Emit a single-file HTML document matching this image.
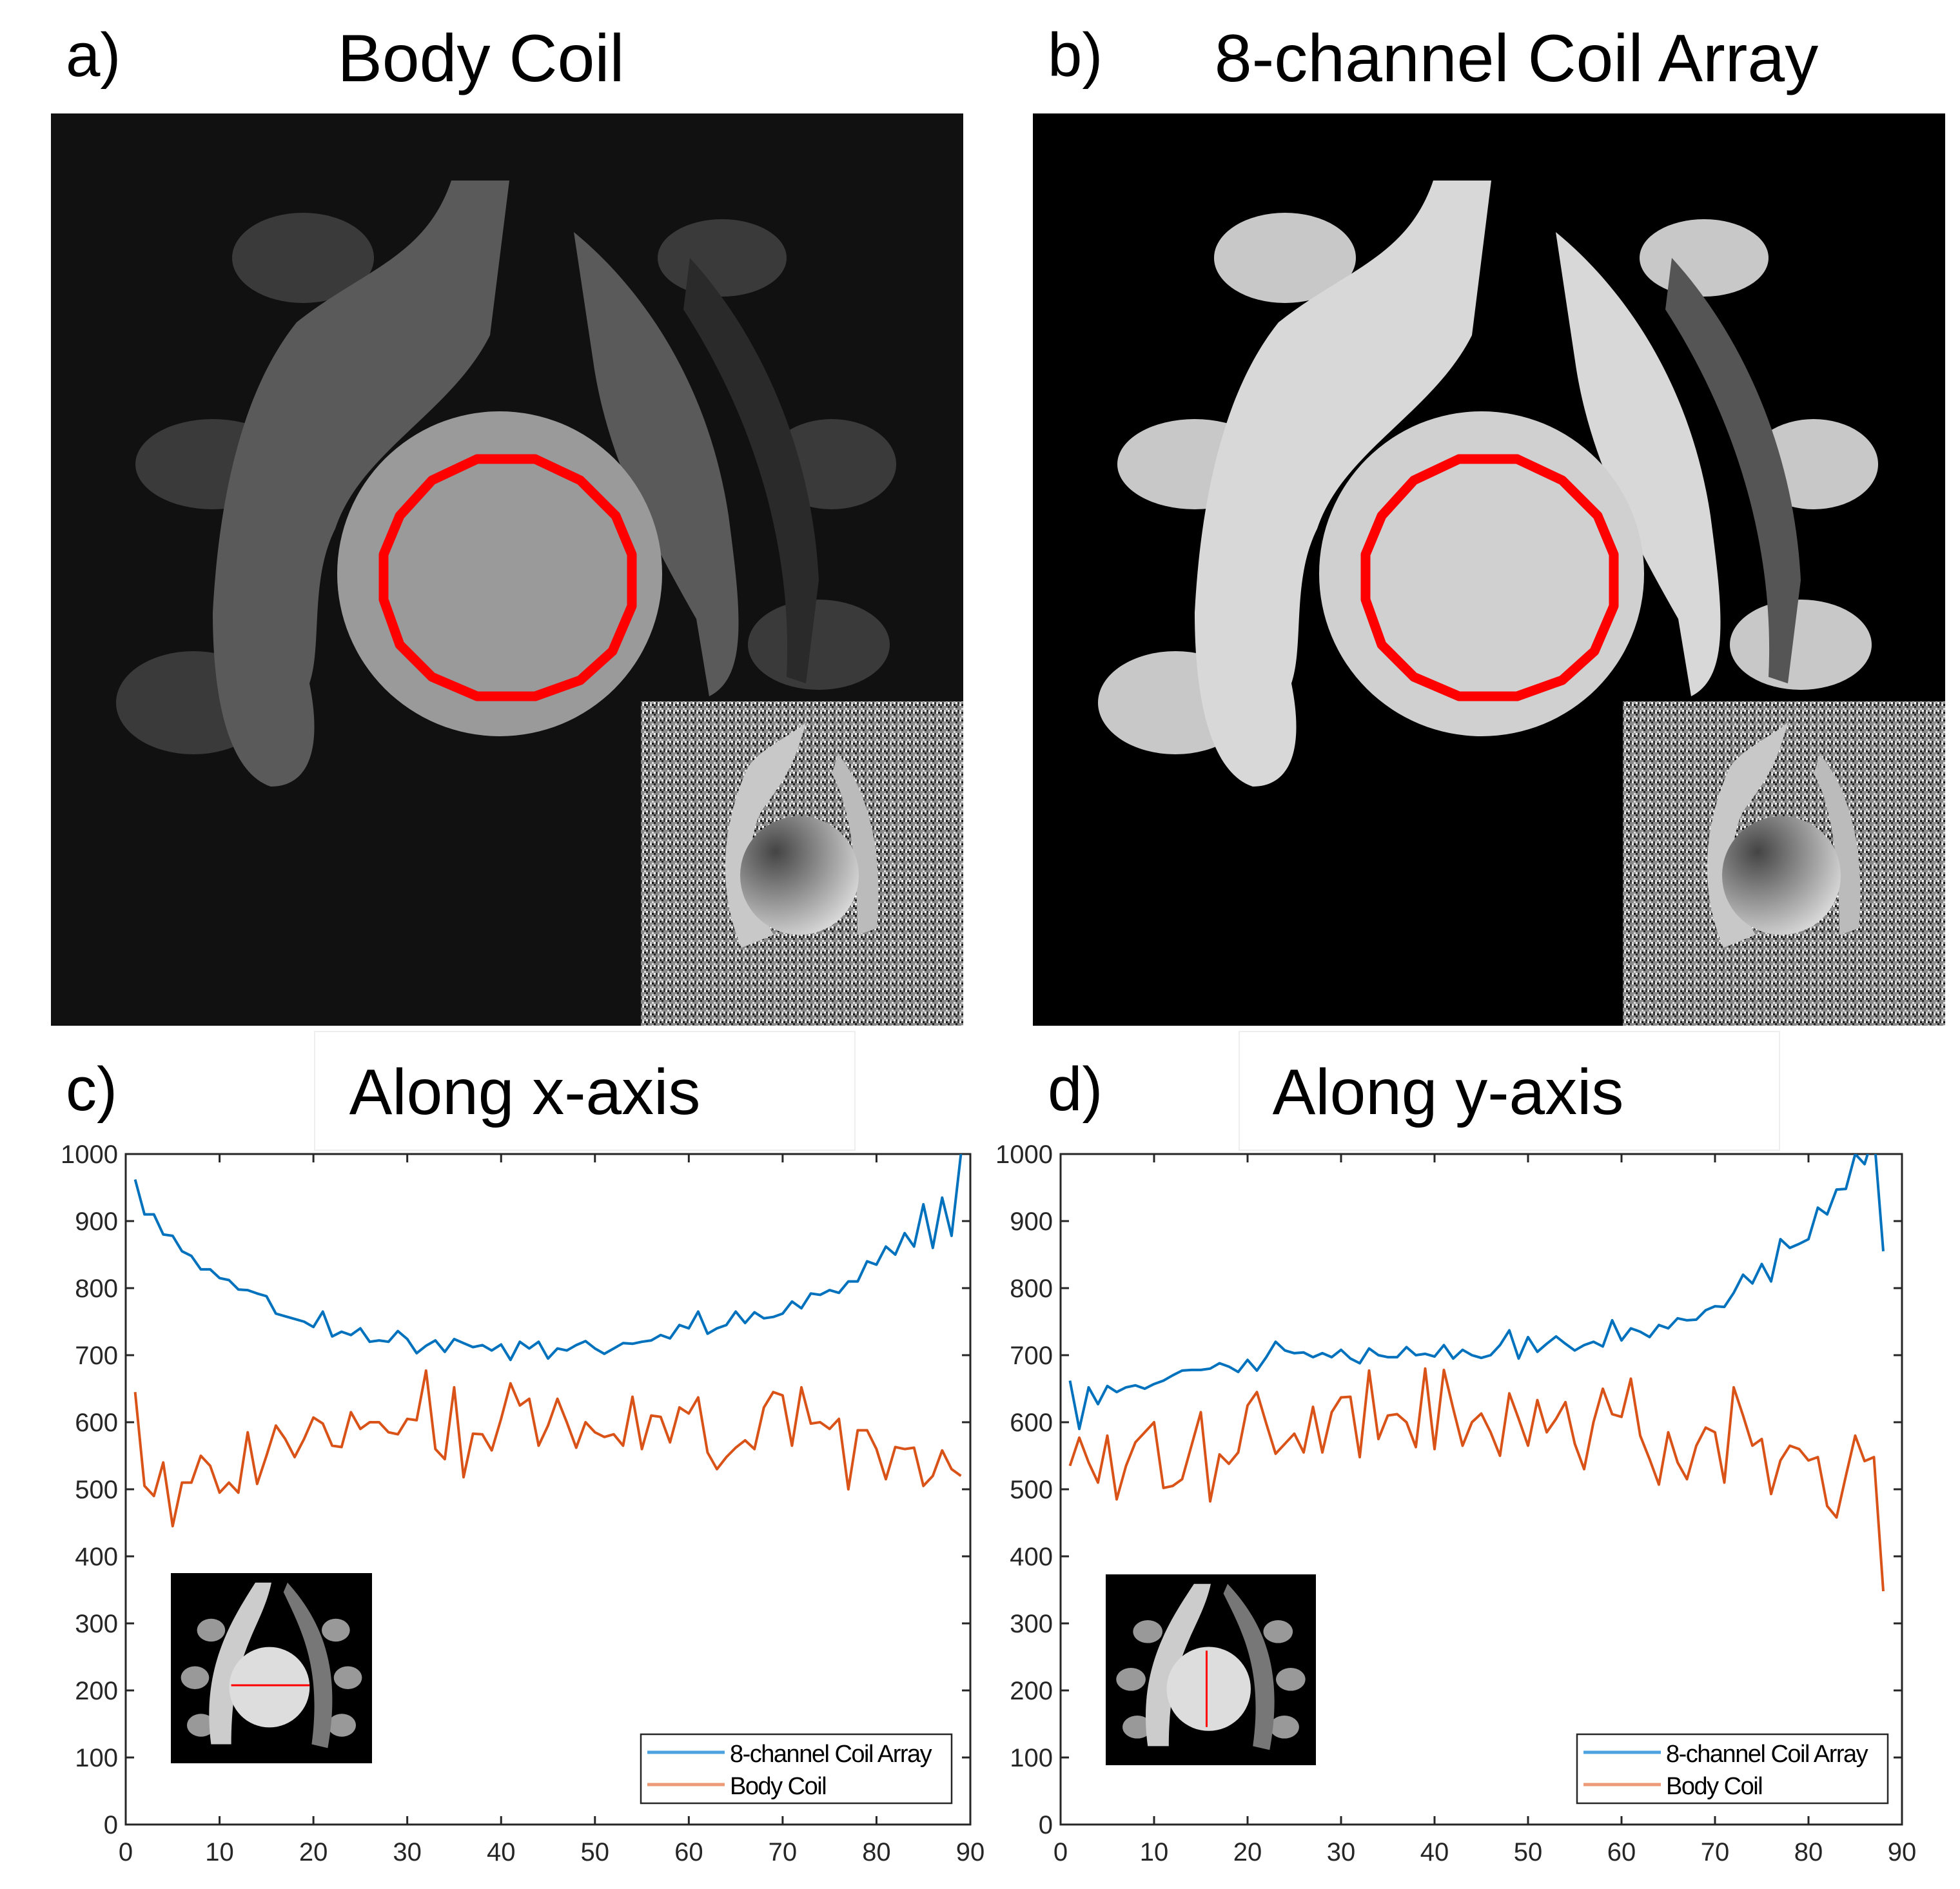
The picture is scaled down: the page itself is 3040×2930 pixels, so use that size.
<!DOCTYPE html>
<html><head><meta charset="utf-8"><style>
html,body{margin:0;padding:0;background:#fff;}
svg{display:block;}
text{font-family:"Liberation Sans",sans-serif;}
</style></head>
<body>
<svg id="fig" width="3040" height="2930" viewBox="0 0 3040 2930" xmlns="http://www.w3.org/2000/svg">
<defs>
<pattern id="noise" width="12" height="12" patternUnits="userSpaceOnUse">
<rect width="12" height="12" fill="#8a8a8a"/>
<rect x="0" y="0" width="3" height="3" fill="#eee"/><rect x="6" y="3" width="3" height="3" fill="#222"/>
<rect x="3" y="6" width="3" height="3" fill="#ddd"/><rect x="9" y="9" width="3" height="3" fill="#333"/>
<rect x="9" y="0" width="3" height="3" fill="#444"/><rect x="0" y="9" width="3" height="3" fill="#ccc"/>
<rect x="6" y="9" width="3" height="3" fill="#fff"/><rect x="3" y="0" width="3" height="3" fill="#111"/>
</pattern>
<radialGradient id="discgrad" cx="0.3" cy="0.3" r="0.8"><stop offset="0" stop-color="#444"/><stop offset="1" stop-color="#ddd"/></radialGradient>
<clipPath id="clipc"><rect x="195" y="1790" width="1310" height="1040"/></clipPath>
<clipPath id="clipd"><rect x="1645" y="1790" width="1305" height="1040"/></clipPath>
</defs>

<text x="102" y="118" font-size="96">a)</text>
<text x="746" y="126" font-size="104" text-anchor="middle">Body Coil</text>
<text x="1625" y="118" font-size="96">b)</text>
<text x="2352" y="126" font-size="104" text-anchor="middle">8-channel Coil Array</text>

<g id="panels"></g>

<rect x="488" y="1600" width="838" height="184" fill="none" stroke="#eee" stroke-width="2"/>
<text x="102" y="1722" font-size="96">c)</text>
<text x="814" y="1728" font-size="100" text-anchor="middle">Along x-axis</text>
<rect x="1922" y="1600" width="838" height="184" fill="none" stroke="#eee" stroke-width="2"/>
<text x="1625" y="1722" font-size="96">d)</text>
<text x="2246" y="1728" font-size="100" text-anchor="middle">Along y-axis</text>

<g id="charts"></g>
</svg>
<script>
// ---------- chart data ----------
const xTicks = [0,10,20,30,40,50,60,70,80,90];
const yTicks = [0,100,200,300,400,500,600,700,800,900,1000];
const seriesNames = ["8-channel Coil Array","Body Coil"];
const xArrayC = [962,910,910,880,878,855,848,828,828,815,812,798,797,792,788,762,758,754,750,742,765,728,735,730,740,720,722,720,736,724,703,714,722,705,724,718,712,715,707,716,693,720,710,720,695,710,707,715,721,710,702,710,718,717,720,722,730,725,745,740,765,732,740,745,765,748,764,755,757,762,780,770,792,790,797,793,810,810,840,835,862,850,882,862,925,860,935,878,1000];
const xBodyC = [645,505,490,540,445,510,510,550,535,495,510,495,585,508,550,595,575,548,575,607,598,565,563,615,590,600,600,585,582,605,603,677,560,545,652,518,583,582,558,605,658,625,635,565,595,635,600,562,600,585,578,582,565,638,560,610,608,570,622,613,637,555,530,548,562,573,560,622,645,640,565,652,598,600,590,605,500,588,588,560,515,563,560,562,505,520,558,530,520];
const yArrayD = [662,590,652,627,654,645,652,655,650,657,662,670,677,678,678,680,688,683,675,693,677,697,720,707,703,704,697,703,697,708,695,688,710,700,697,697,712,700,702,698,715,695,708,700,696,700,715,737,695,727,705,717,728,717,707,715,720,713,752,722,740,735,727,745,740,755,752,753,767,773,772,793,820,807,836,810,873,860,866,873,920,910,947,948,1000,985,1030,855];
const yBodyD = [535,577,540,510,580,485,535,570,585,600,502,505,515,565,615,482,552,538,555,625,645,598,553,568,583,555,623,555,615,637,638,548,677,575,610,612,600,563,680,560,678,620,565,600,613,585,550,643,605,565,633,585,605,630,568,530,600,650,612,608,665,580,545,507,585,540,515,565,592,585,510,652,610,565,575,493,543,565,560,543,548,475,458,520,580,542,548,348];

const NS="http://www.w3.org/2000/svg";
function mk(tag, attrs, parent){const e=document.createElementNS(NS,tag);for(const k in attrs)e.setAttribute(k,attrs[k]);if(parent)parent.appendChild(e);return e;}

// ---------- image panels ----------
const panels=document.getElementById('panels');
function drawPanel(ox, dim, name){
  const g=mk('g',{transform:'translate('+ox+',0)'},panels);
  
  
  const bg = dim ? '#111' : '#000';
  const tissue = dim ? '#5a5a5a' : '#d8d8d8';
  const fin = dim ? '#3a3a3a' : '#c8c8c8';
  const disc = dim ? '#9a9a9a' : '#d0d0d0';
  mk('rect',{x:79,y:176,width:1415,height:1415,fill:bg},g);
  [[470,400,110,70],[330,720,120,70],[300,1090,120,80],[1120,400,100,60],[1290,720,100,70],[1270,1000,110,70]].forEach(f=>{
    mk('ellipse',{cx:f[0],cy:f[1],rx:f[2],ry:f[3],fill:fin},g);
  });
  mk('path',{d:'M700 280 L790 280 L760 520 C700 640 560 700 520 820 C480 900 500 1000 480 1060 C500 1160 480 1220 420 1220 C360 1200 330 1100 330 950 C340 760 380 600 460 500 C560 420 660 400 700 280 Z',fill:tissue},g);
  mk('path',{d:'M890 360 C1000 450 1100 600 1130 800 C1150 950 1160 1050 1100 1080 L1080 960 C1000 820 940 700 920 560 Z',fill:tissue},g);
  mk('path',{d:'M1070 400 C1180 520 1260 700 1270 900 L1250 1060 L1220 1050 C1230 850 1170 650 1060 480 Z',fill: dim?'#2a2a2a':'#555'},g);
  mk('circle',{cx:775,cy:890,r:252,fill:disc},g);
  mk('path',{d:'M740 712 L830 712 L900 745 L955 800 L980 860 L980 940 L950 1010 L900 1055 L830 1080 L740 1080 L670 1050 L620 1000 L595 930 L595 860 L620 800 L670 745 Z',fill:'none',stroke:'#ff0000','stroke-width':15,'stroke-linejoin':'round'},g);
  const ins=mk('g',{},g);
  
  
  mk('rect',{x:994,y:1088,width:500,height:503,fill:'url(#noise)'},ins);
  mk('path',{d:'M1160 1190 C1180 1160 1230 1140 1250 1120 C1230 1200 1200 1230 1180 1260 C1150 1320 1170 1400 1200 1450 L1150 1470 C1120 1400 1110 1300 1160 1190 Z',fill:'#c8c8c8'},ins);
  mk('path',{d:'M1300 1170 C1350 1230 1370 1330 1360 1440 L1330 1450 C1330 1350 1320 1250 1290 1200 Z',fill:'#bbb'},ins);
  mk('circle',{cx:1240,cy:1358,r:92,fill:'url(#discgrad)'},ins);
}
drawPanel(0,true,'body-coil-image');
drawPanel(1523,false,'coil-array-image');

// ---------- charts ----------
const charts=document.getElementById('charts');
function drawChart(cfg){
  const g=mk('g',{},charts);
  
  
  const L=cfg.left,R=cfg.right,T=1790,B=2830;
  const sx=v=>L+(v-0)/(90-0)*(R-L);
  const sy=v=>B-(v-0)/(1000-0)*(B-T);
  const frame=mk('rect',{x:L,y:T,width:R-L,height:B-T,fill:'#fff',stroke:'#262626','stroke-width':3},g);
  
  
  xTicks.forEach(t=>{
    const x=sx(t);
    mk('line',{x1:x,y1:B,x2:x,y2:B-13,stroke:'#262626','stroke-width':3},g);
    mk('line',{x1:x,y1:T,x2:x,y2:T+13,stroke:'#262626','stroke-width':3},g);
    const tx=mk('text',{x:x,y:B+56,'font-size':40,'text-anchor':'middle',fill:'#262626'},g);
    
    
    tx.textContent=t;
  });
  yTicks.forEach(t=>{
    const y=sy(t);
    mk('line',{x1:L,y1:y,x2:L+13,y2:y,stroke:'#262626','stroke-width':3},g);
    mk('line',{x1:R,y1:y,x2:R-13,y2:y,stroke:'#262626','stroke-width':3},g);
    const tx=mk('text',{x:L-12,y:y+14,'font-size':40,'text-anchor':'end',fill:'#262626'},g);
    
    
    tx.textContent=t;
  });
  const cg=mk('g',{'clip-path':'url(#'+cfg.clip+')'},g);
  [[cfg.blue,'#0072BD','series-8-channel'],[cfg.orange,'#D95319','series-body-coil']].forEach(s=>{
    const pts=s[0].map((v,i)=>sx(i+1).toFixed(1)+','+sy(v).toFixed(1)).join(' ');
    const pl=mk('polyline',{points:pts,fill:'none',stroke:s[1],'stroke-width':4,'stroke-linejoin':'round'},cg);
    
    
  });
  const th=mk('g',{},g);
  
  
  const ix=cfg.inset[0],iy=cfg.inset[1],iw=cfg.inset[2],ih=cfg.inset[3];
  mk('rect',{x:ix,y:iy,width:iw,height:ih,fill:'#000'},th);
  [[0.2,0.3],[0.12,0.55],[0.15,0.8],[0.82,0.3],[0.88,0.55],[0.85,0.8]].forEach(p=>{
    mk('ellipse',{cx:ix+iw*p[0],cy:iy+ih*p[1],rx:iw*0.07,ry:ih*0.06,fill:'#999'},th);
  });
  mk('path',{d:`M${ix+iw*0.42} ${iy+ih*0.05} L${ix+iw*0.5} ${iy+ih*0.05} C${ix+iw*0.45} ${iy+ih*0.3} ${ix+iw*0.3} ${iy+ih*0.4} ${ix+iw*0.3} ${iy+ih*0.9} L${ix+iw*0.2} ${iy+ih*0.9} C${ix+iw*0.15} ${iy+ih*0.5} ${ix+iw*0.3} ${iy+ih*0.25} ${ix+iw*0.42} ${iy+ih*0.05} Z`,fill:'#ccc'},th);
  mk('path',{d:`M${ix+iw*0.58} ${iy+ih*0.05} C${ix+iw*0.75} ${iy+ih*0.25} ${ix+iw*0.85} ${iy+ih*0.5} ${ix+iw*0.78} ${iy+ih*0.92} L${ix+iw*0.7} ${iy+ih*0.9} C${ix+iw*0.75} ${iy+ih*0.5} ${ix+iw*0.65} ${iy+ih*0.3} ${ix+iw*0.56} ${iy+ih*0.1} Z`,fill:'#777'},th);
  mk('circle',{cx:ix+iw*0.49,cy:iy+ih*0.6,r:iw*0.2,fill:'#ddd'},th);
  if(cfg.vertical) mk('line',{x1:ix+iw*0.48,y1:iy+ih*0.4,x2:ix+iw*0.48,y2:iy+ih*0.8,stroke:'#f00','stroke-width':3},th);
  else mk('line',{x1:ix+iw*0.3,y1:iy+ih*0.59,x2:ix+iw*0.69,y2:iy+ih*0.59,stroke:'#f00','stroke-width':3},th);
  const lg=mk('g',{},g);
  
  
  const lx=cfg.legend,ly=2690;
  mk('rect',{x:lx,y:ly,width:482,height:107,fill:'#fff',stroke:'#262626','stroke-width':2.5},lg);
  [['#4DA3DF',seriesNames[0]],['#EE9A77',seriesNames[1]]].forEach((e,i)=>{
    const yy=ly+36+i*50;
    mk('line',{x1:lx+10,y1:yy-8,x2:lx+130,y2:yy-8,stroke:e[0],'stroke-width':5},lg);
    const t=mk('text',{x:lx+138,y:yy+7,'font-size':38,fill:'#000','letter-spacing':-1.5},lg);
    
    
    t.textContent=e[1];
  });
}
drawChart({name:'chart-x-axis',left:195,right:1505,clip:'clipc',blue:xArrayC,orange:xBodyC,inset:[265,2440,312,295],legend:994,vertical:false});
drawChart({name:'chart-y-axis',left:1645,right:2950,clip:'clipd',blue:yArrayD,orange:yBodyD,inset:[1715,2442,326,296],legend:2446,vertical:true});
</script>
</body></html>
